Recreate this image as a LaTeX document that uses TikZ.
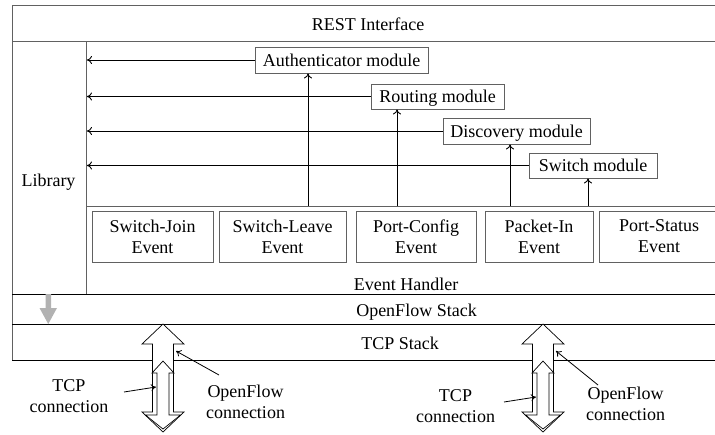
\documentclass[tikz,border=0pt]{standalone}
\usepackage{fontspec}
\setmainfont{Liberation Serif}
\usetikzlibrary{arrows.meta}
\begin{document}
\begin{tikzpicture}[x=1pt,y=-1pt,
  every node/.style={font=\fontsize{18}{21}\selectfont, inner sep=0pt},
  frame/.style={draw=black!62, line width=1pt},
  stackline/.style={draw=black, line width=0.9pt},
  modbox/.style={draw=black!62, line width=0.9pt, fill=white, text height=12.3pt, text depth=0pt},
  evbox/.style={draw=black!62, line width=0.9pt, minimum height=51pt, align=center},
  label/.style={align=center},
  flow/.style={-{To[length=5pt,width=8pt]}, line width=0.9pt},
  pointer/.style={-{To[length=5pt,width=7pt]}, line width=0.8pt},
  pipe/.style={draw=black, line width=0.7pt, fill=white},
]
\useasboundingbox (0,0) rectangle (715,434);
\clip (0,0) rectangle (715,434);

% layer frame
\draw[frame] (724,5) -- (12,5) -- (12,360);
\draw[frame] (12,41) -- (724,41);
\draw[frame] (86,41) -- (86,294);
\draw[frame] (86,206) -- (724,206);
\draw[stackline] (12,294) -- (724,294);
\draw[stackline] (12,324) -- (724,324);
\draw[stackline] (12,360) -- (724,360);

% layer titles
\node[anchor=base] (rest) at (368,30) {REST Interface};
\node[anchor=base] (lib) at (48.5,186) {Library};
\node[anchor=base] (evh) at (406,290) {Event Handler};
\node[anchor=base] (ofs) at (416.5,316) {OpenFlow Stack};
\node[anchor=base] (tcps) at (400,349) {TCP Stack};

% modules
\node[modbox, minimum width=173pt, minimum height=26pt] (auth) at (341.5,60) {Authenticator module};
\node[modbox, minimum width=133pt, minimum height=25pt] (rout) at (437.5,96.5) {Routing module};
\node[modbox, minimum width=147pt, minimum height=26pt] (disc) at (516.5,131) {Discovery module};
\node[modbox, minimum width=128pt, minimum height=25pt] (swm) at (593,165.5) {Switch module};

% events
\node[evbox, minimum width=121pt] (sj) at (152.5,236.5) {Switch-Join\\Event};
\node[evbox, minimum width=127pt] (sl) at (282.5,236.5) {Switch-Leave\\Event};
\node[evbox, minimum width=120pt] (pc) at (416,236.5) {Port-Config\\Event};
\node[evbox, minimum width=108pt] (pi) at (539,236.5) {Packet-In\\Event};
\node[evbox, minimum width=120pt] (ps) at (659,236.5) {Port-Status\\Event};

% module outputs to the library
\coordinate (libedge) at (87,0);
\foreach \m in {auth,rout,disc,swm}
  \draw[flow] (\m.west) -- (\m.west -| libedge);

% event handler feeds the modules
\coordinate (fa) at (308,206);
\coordinate (fr) at (397,206);
\coordinate (fd) at (510,206);
\coordinate (fs) at (588,206);
\draw[flow] (fa) -- (fa |- auth.south);
\draw[flow] (fr) -- (fr |- rout.south);
\draw[flow] (fd) -- (fd |- disc.south);
\draw[flow] (fs) -- (fs |- swm.south);

% downward flow into the TCP stack
\fill[black!30] (45.5,294) -- (51,294) -- (51,308) -- (57,308) -- (48.25,324)
  -- (39.5,308) -- (45.5,308) -- cycle;

% connection pipes
\foreach \cx/\nm in {163/l,543/r}{
  \draw[pipe] (\cx,324) -- (\cx+21,344) -- (\cx+10.5,344) -- (\cx+10.5,412)
    -- (\cx+21,412) -- (\cx,432) -- (\cx-21,412) -- (\cx-10.5,412)
    -- (\cx-10.5,344) -- (\cx-21,344) -- cycle;
  \draw[pipe] (\cx,361) -- (\cx+11,373) -- (\cx+6,373) -- (\cx+6,415)
    -- (\cx+17.5,415) -- (\cx,429) -- (\cx-17.5,415) -- (\cx-6,415)
    -- (\cx-6,373) -- (\cx-11,373) -- cycle;
}

% connection labels
\node[label] (tcpl) at (69,396.4) {TCP\\connection};
\node[label] (ofl) at (245.5,401.4) {OpenFlow\\connection};
\node[label] (tcpr) at (455.5,406.4) {TCP\\connection};
\node[label] (ofr) at (625.5,403.4) {OpenFlow\\connection};

\coordinate (tcplt) at (124,392);  \coordinate (tcplh) at (156,387);
\coordinate (oflt) at (219,375);   \coordinate (oflh) at (176,351);
\coordinate (tcprt) at (504,402);  \coordinate (tcprh) at (536,397);
\coordinate (ofrt) at (598,385);   \coordinate (ofrh) at (556,351);
\draw[pointer] (tcplt) -- (tcplh);
\draw[pointer] (oflt) -- (oflh);
\draw[pointer] (tcprt) -- (tcprh);
\draw[pointer] (ofrt) -- (ofrh);
\end{tikzpicture}
\end{document}
